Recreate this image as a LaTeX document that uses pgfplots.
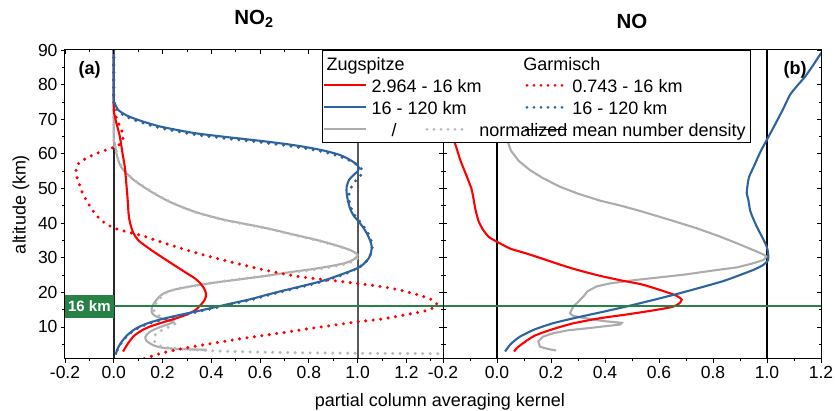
\documentclass[border=0pt]{standalone}
\usepackage{fontspec}
\setmainfont{Liberation Sans}
\usepackage{pgfplots}
\pgfplotsset{compat=1.18}

\definecolor{cred}{RGB}{255,0,0}
\definecolor{cblue}{RGB}{45,100,160}
\definecolor{cgray}{RGB}{172,172,172}
\definecolor{cgrayd}{RGB}{185,185,185}
\definecolor{cgreen}{RGB}{40,130,70}

\pgfplotsset{
  panel/.style={scale only axis, width=378pt, height=309pt, ymin=0.743, ymax=90,
    axis line style={line width=1pt},
    major tick length=4pt, minor tick length=2.5pt,
    every tick/.style={black, line width=0.8pt},
    ytick={10,20,30,40,50,60,70,80,90}, minor ytick={5,15,25,35,45,55,65,75,85},
    tick label style={font=\fontsize{17.5}{20}\selectfont},
  },
  dotstyle/.style={line width=3.4pt, line cap=round, dash pattern=on 0pt off 7.5pt},
  solidstyle/.style={line width=2.1pt},
}

\begin{document}
\begin{tikzpicture}
% ---------------- left panel (NO2) ----------------
\begin{axis}[panel, at={(0pt,0pt)}, anchor=south west,
  xmin=-0.2, xmax=1.35,
  xtick={-0.2,0,0.2,0.4,0.6,0.8,1,1.2},
  xticklabels={-0.2,0.0,0.2,0.4,0.6,0.8,1.0,1.2},
  minor xtick={-0.1,0.1,0.3,0.5,0.7,0.9,1.1,1.3},
  yticklabels={10,20,30,40,50,60,70,80,90},
  tick align=outside, xtick pos=left, ytick pos=left,
  title={NO\textsubscript{2}},
  title style={font=\fontsize{20.5}{24}\selectfont\bfseries, anchor=base, at={(axis description cs:0.5,1)}, yshift=19.3pt},
  ylabel={altitude (km)},
  ylabel style={at={(axis description cs:-0.1164,0.5)}, anchor=center, font=\fontsize{18}{21}\selectfont},
  xlabel={partial column averaging kernel},
  xlabel style={at={(axis description cs:0.992,-0.1553)}, anchor=base, font=\fontsize{18}{21}\selectfont},
]
\addplot[forget plot, black!85, line width=2pt] coordinates {(0,0.743) (0,90)};
\addplot[forget plot, black!65, line width=2pt] coordinates {(1,0.743) (1,90)};

% gray solid: Zugspitze normalized mean number density
\addplot[cgray, solidstyle, smooth, tension=0.5] coordinates {
(0,90) (0,65) (0.004,63.1) (0.01,60.5) (0.018,58.2) (0.03,56.2) (0.052,54.4) (0.085,52.3) (0.121,50.5) (0.155,49) (0.189,47.6) (0.24,45.8) (0.299,44.1) (0.353,42.8) (0.45,41) (0.55,39.6) (0.628,38.5) (0.73,36.8) (0.833,35.1) (0.91,33.6) (0.97,32.2) (0.995,31.2) (1.0,30.6) (0.984,29.5) (0.94,28.3) (0.833,26.9) (0.72,25.8) (0.628,24.8) (0.5,23.6) (0.422,22.9) (0.33,21.9) (0.244,20.7) (0.2,19.5) (0.175,17.8) (0.158,16.0) (0.155,14.4) (0.165,13.4) (0.189,12.6) (0.23,11.8) (0.244,11.4) (0.22,10.7) (0.18,9.7) (0.148,8.6) (0.13,7.2) (0.134,6.0) (0.16,4.8) (0.2,4.0) (0.28,3.6) (0.381,3.4)};
% gray dotted: Garmisch normalized mean number density
\addplot[cgrayd, dotstyle, smooth, tension=0.5] coordinates {
(0,90) (0,64) (0.006,62.5) (0.012,60.2) (0.02,58) (0.035,56) (0.058,54.1) (0.09,52.1) (0.128,50.3) (0.162,48.8) (0.196,47.4) (0.248,45.6) (0.307,43.9) (0.36,42.6) (0.458,40.8) (0.558,39.4) (0.636,38.3) (0.738,36.6) (0.84,34.9) (0.918,33.4) (0.975,32.0) (1.0,31.0) (1.005,30.4) (0.99,29.3) (0.945,28.1) (0.84,26.7) (0.71,25.6) (0.636,24.9) (0.51,23.8) (0.43,23.0) (0.34,22.0) (0.255,20.9) (0.21,19.7) (0.185,18.0) (0.168,16.2) (0.165,14.6) (0.175,13.6) (0.2,12.8) (0.24,12.0) (0.26,11.5) (0.245,10.6) (0.21,9.5) (0.18,8.4) (0.165,7.2) (0.165,6.0) (0.18,4.9) (0.21,4.1) (0.3,3.5) (0.45,3.0) (0.7,2.6) (1.0,2.4) (1.4,2.25)};

% red solid: Zugspitze 2.964 - 16 km
\addplot[cred, solidstyle, smooth, tension=0.5] coordinates {
(0,90) (0,74) (0.004,71) (0.014,68) (0.025,65) (0.035,60.5) (0.045,56.3) (0.052,51) (0.057,46.7) (0.061,42.5) (0.067,40) (0.08,37.2) (0.1,35.1) (0.134,33.2) (0.175,31.2) (0.216,29.3) (0.26,27.3) (0.3,25.5) (0.333,24) (0.355,22.6) (0.371,21) (0.378,19.7) (0.377,18.6) (0.369,17.4) (0.353,16.1) (0.335,14.9) (0.3,13.6) (0.256,12.5) (0.2,11.3) (0.148,10.1) (0.11,8.8) (0.08,7.2) (0.057,5.1) (0.038,2.9)};
% red dotted: Garmisch 0.743 - 16 km
\addplot[cred, dotstyle, smooth, tension=0.5] coordinates {
(0,90) (0,74.6) (0.011,70.3) (0.032,66.9) (0.038,64.5) (0.02,62.5) (-0.016,61.5) (-0.071,60.1) (-0.126,58.2) (-0.15,56.8) (-0.155,55) (-0.15,53) (-0.14,51) (-0.13,49) (-0.112,46.5) (-0.08,43) (-0.044,40.4) (0.004,38.5) (0.079,37) (0.12,36.3) (0.217,34.0) (0.353,31.1) (0.49,28.6) (0.628,26.3) (0.764,24.5) (0.9,23.4) (1.04,22.2) (1.11,21.5) (1.17,20.7) (1.22,19.8) (1.26,19.0) (1.3,18.0) (1.32,17.0) (1.325,16.2) (1.3,15.2) (1.27,14.5) (1.21,13.7) (1.15,12.9) (1.09,12.2) (1.0,11.5) (0.9,10.5) (0.79,9.4) (0.66,8.0) (0.52,6.6) (0.4,5.2) (0.3,4.0) (0.2,2.5) (0.12,0.743)};

% blue solid: Zugspitze 16 - 120 km
\addplot[cblue, solidstyle, smooth, tension=0.5] coordinates {
(0,90) (0,76) (0.004,74.6) (0.018,72.7) (0.05,71.2) (0.08,70.3) (0.13,69.1) (0.19,67.9) (0.26,66.9) (0.33,66.0) (0.42,65.2) (0.52,64.4) (0.62,63.6) (0.72,62.7) (0.80,61.8) (0.87,60.8) (0.93,59.6) (0.97,58.2) (0.995,57) (1.005,56) (1.0,55) (0.985,54) (0.965,52.5) (0.955,50.5) (0.955,48.6) (0.96,46.5) (0.97,44) (0.985,42) (1.0,40.8) (1.025,38.5) (1.045,36) (1.057,33.5) (1.055,31.5) (1.045,29.8) (1.025,28.2) (1.0,27) (0.95,25.6) (0.86,23.4) (0.76,21.6) (0.655,19.8) (0.56,18.0) (0.47,16.6) (0.39,15.3) (0.326,14.3) (0.26,13.3) (0.2,12.3) (0.14,11.1) (0.09,9.5) (0.055,7.6) (0.03,5.5) (0.015,3.6) (0.008,2.0)};
% blue dotted: Garmisch 16 - 120 km
\addplot[cblue, dotstyle, smooth, tension=0.5] coordinates {
(0,90) (0,76) (0.004,74.2) (0.018,72.3) (0.05,70.8) (0.08,69.9) (0.13,68.7) (0.19,67.5) (0.26,66.5) (0.33,65.6) (0.42,64.8) (0.52,64.0) (0.62,63.2) (0.72,62.3) (0.80,61.4) (0.87,60.4) (0.93,59.2) (0.975,57.8) (1.005,56.5) (1.02,55) (1.015,54) (0.995,52.5) (0.975,50.5) (0.965,48.6) (0.965,46.5) (0.975,44) (0.99,42) (1.005,40.8) (1.03,38.5) (1.05,36) (1.06,33.5) (1.055,31.5) (1.045,29.8) (1.025,28.2) (1.0,27) (0.95,25.4) (0.86,23.2) (0.76,21.4) (0.655,19.6) (0.56,17.8) (0.47,16.4) (0.39,15.1) (0.326,14.1) (0.26,13.1) (0.2,12.1) (0.14,10.9) (0.09,9.3) (0.055,7.4) (0.03,5.3) (0.015,3.4) (0.003,1.5)};

\addplot[forget plot, cgreen, line width=1.6pt] coordinates {(-0.2,16) (1.35,16)};
\node[fill=cgreen, text=white, font=\fontsize{15}{18}\selectfont\bfseries, minimum width=49pt, minimum height=23.3pt, inner sep=0pt] at (axis cs:-0.1,15.87) {16 km};
\node[anchor=base west, font=\fontsize{18}{21}\selectfont\bfseries] at (axis description cs:0.0265,0.922) {(a)};
\end{axis}
% inner ticks, left panel
\begin{axis}[panel, at={(0pt,0pt)}, anchor=south west,
  xmin=-0.2, xmax=1.35,
  xtick={-0.2,0,0.2,0.4,0.6,0.8,1,1.2},
  minor xtick={-0.1,0.1,0.3,0.5,0.7,0.9,1.1,1.3},
  xticklabels={}, yticklabels={},
  tick align=inside, xtick pos=right, ytick pos=right]
\end{axis}

% ---------------- right panel (NO) ----------------
\begin{axis}[panel, at={(378pt,0pt)}, anchor=south west,
  xmin=-0.2, xmax=1.2,
  xtick={-0.2,0,0.2,0.4,0.6,0.8,1,1.2},
  xticklabels={-0.2,0.0,0.2,0.4,0.6,0.8,1.0,1.2},
  minor xtick={-0.1,0.1,0.3,0.5,0.7,0.9,1.1},
  ytick=\empty, minor ytick=\empty,
  tick align=outside, xtick pos=left,
  title={NO},
  title style={font=\fontsize{20.5}{24}\selectfont\bfseries, anchor=base, at={(axis description cs:0.5,1)}, yshift=15pt},
]
\addplot[forget plot, black, line width=1.2pt] coordinates {(0,0.743) (0,90)};
\addplot[forget plot, black, line width=1.2pt] coordinates {(1,0.743) (1,90)};

% gray: normalized mean number density
\addplot[cgray, solidstyle] coordinates {
(0,90) (0.01,80) (0.025,70) (0.035,66) (0.042,63.1) (0.051,61) (0.08,58) (0.122,55.3) (0.17,53) (0.233,50.5) (0.30,48.5) (0.381,46.5) (0.46,45) (0.53,43.5) (0.641,40.9) (0.74,38.5) (0.826,36.1) (0.90,33.8) (0.949,32.2) (0.985,31) (0.999,30.3) (0.986,29.3) (0.94,28.2) (0.888,27.2) (0.80,26.3) (0.702,25.2) (0.60,24.3) (0.517,23.6) (0.42,22.6) (0.369,21.7) (0.335,20.3) (0.32,18.8) (0.30,17.2) (0.283,15.9) (0.27,14.0) (0.28,13.3) (0.307,12.8) (0.394,11.7) (0.462,11.2) (0.456,10.7) (0.40,10.2) (0.332,9.6) (0.26,9.0) (0.209,8.2) (0.17,7.2) (0.153,5.8) (0.159,4.3) (0.19,3.6) (0.219,3.2)};
% red: Zugspitze 2.964 - 16 km
\addplot[cred, solidstyle, smooth, tension=0.4] coordinates {
(-0.2,70.5) (-0.175,66) (-0.156,63.1) (-0.135,58) (-0.112,53.5) (-0.095,50) (-0.088,47.5) (-0.08,44) (-0.068,40.5) (-0.051,38) (-0.03,36) (0.0,34.6) (0.05,32.6) (0.11,31.2) (0.18,29.4) (0.27,27.1) (0.369,25.0) (0.456,23.5) (0.53,22.4) (0.579,21.3) (0.63,20.0) (0.665,19.0) (0.684,17.9) (0.675,16.8) (0.65,15.8) (0.58,14.8) (0.48,13.6) (0.38,12.5) (0.28,11.0) (0.2,9.2) (0.14,7.5) (0.1,5.5) (0.075,4.0) (0.063,2.9)};
% blue: Zugspitze 16 - 120 km
\addplot[cblue, solidstyle, smooth, tension=0.4] coordinates {
(0.030,2.9) (0.05,5) (0.085,7.2) (0.14,9.3) (0.209,11.1) (0.30,12.8) (0.394,14.4) (0.49,16.1) (0.579,17.8) (0.67,19.6) (0.764,21.6) (0.84,23.3) (0.90,25.0) (0.95,26.5) (0.986,27.9) (1.003,29.2) (1.005,30.3) (1.003,31.8) (0.999,33.2) (0.985,35.5) (0.962,39.0) (0.945,42) (0.937,43.8) (0.931,46.7) (0.925,48.6) (0.928,51) (0.934,53.4) (0.955,57) (0.975,60.5) (0.999,64.0) (1.03,68.5) (1.06,73) (1.085,77.0) (1.11,79.5) (1.141,82.3) (1.17,85.5) (1.196,88.6) (1.21,90)};

\addplot[forget plot, cgreen, line width=1.6pt] coordinates {(-0.2,16) (1.2,16)};
\node[anchor=base west, font=\fontsize{18}{21}\selectfont\bfseries] at (axis description cs:0.8915,0.922) {(b)};
\end{axis}
% inner ticks + legend, right panel
\begin{axis}[panel, at={(378pt,0pt)}, anchor=south west,
  xmin=-0.2, xmax=1.2, xtick=\empty, minor xtick=\empty,
  yticklabels={},
  tick align=inside, ytick pos=both,
  legend columns=2, legend cell align=left,
  legend style={at={(-0.3201,1)}, anchor=north west, draw=black, line width=0.8pt, fill=white,
    inner xsep=1pt, inner ysep=2pt, font=\fontsize{18}{21}\selectfont,
    nodes={inner xsep=4pt, inner ysep=3.5pt, text height=15pt, text depth=0pt},
    /tikz/every even column/.append style={column sep=39pt}},
]
\addlegendimage{empty legend}
\addlegendentry{\hspace{-45pt}Zugspitze}
\addlegendimage{empty legend}
\addlegendentry{\hspace{-49pt}Garmisch}
\addlegendimage{legend image code/.code={\draw[cred, line width=2.1pt] (0pt,0pt) -- (42pt,0pt);}}
\addlegendentry{2.964 - 16 km}
\addlegendimage{legend image code/.code={\draw[cred, line width=3pt, line cap=round, dash pattern=on 0pt off 7pt] (2pt,0pt) -- (42pt,0pt);}}
\addlegendentry{0.743 - 16 km}
\addlegendimage{legend image code/.code={\draw[cblue, line width=2.1pt] (0pt,0pt) -- (42pt,0pt);}}
\addlegendentry{16 - 120 km}
\addlegendimage{legend image code/.code={\draw[cblue, line width=3pt, line cap=round, dash pattern=on 0pt off 7pt] (2pt,0pt) -- (42pt,0pt);}}
\addlegendentry{16 - 120 km}
\addlegendimage{legend image code/.code={\draw[cgray, line width=2.1pt] (0pt,0pt) -- (42pt,0pt);}}
\addlegendentry{\hspace{20pt}/}
\addlegendimage{legend image code/.code={\path (0pt,0pt) -- (42pt,0pt); \draw[overlay, cgrayd, line width=3pt, line cap=round, dash pattern=on 0pt off 7pt] (-98pt,0pt) -- (-58pt,0pt);}}
\addlegendentry{\hspace{-93pt}normalized mean number density}
\end{axis}

\pgfresetboundingbox
\path[use as bounding box] (-65pt,-52pt) rectangle (770pt,359pt);
\end{tikzpicture}
\end{document}
